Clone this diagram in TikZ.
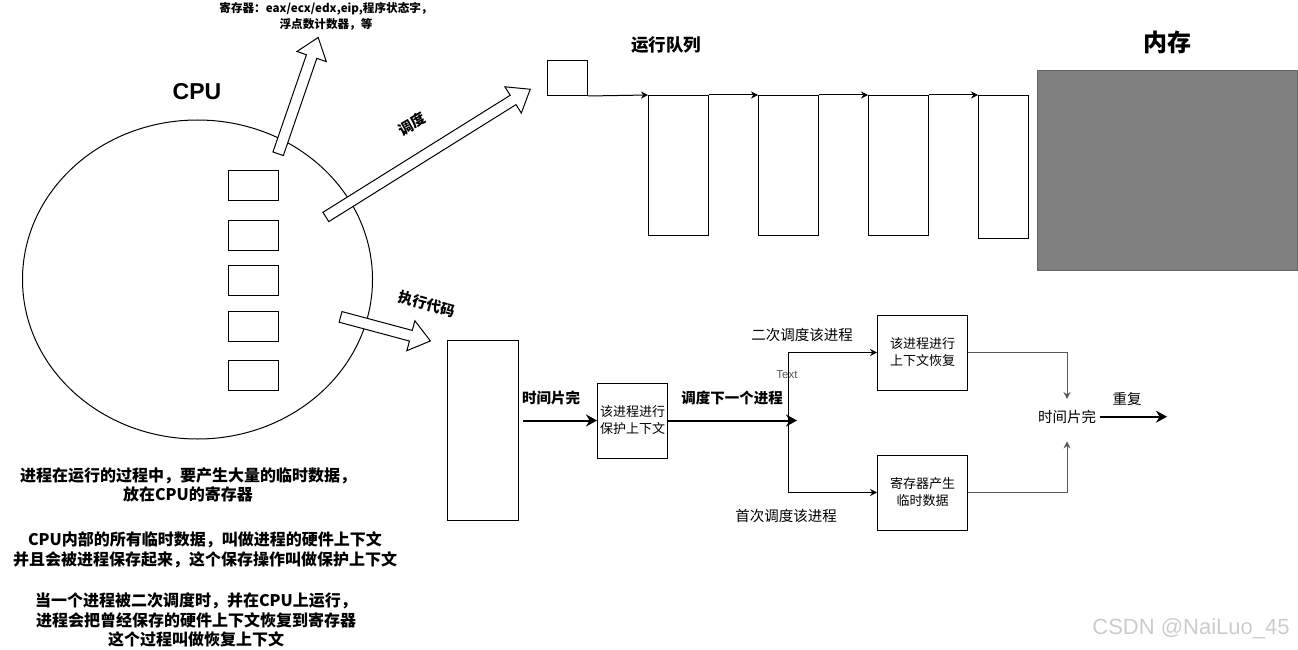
\documentclass[tikz,border=0pt]{standalone}
\usepackage{fontspec}
\setmainfont{Liberation Sans}
\newfontfamily\cjk{Noto Sans CJK SC}
\usepackage{tikz}
\usetikzlibrary{
    arrows.meta,
    positioning,
    shapes.geometric,
    shapes.arrows
}
\tikzset{
    regbox/.style={
        rectangle,
        draw=black,
        line width=1pt,
        inner sep=0pt,
        minimum width=50pt,
        minimum height=30pt
    },
    qbox/.style={
        rectangle,
        draw=black,
        line width=1pt,
        inner sep=0pt,
        anchor=north west,
        minimum width=60pt,
        minimum height=140pt
    },
    flowbox/.style={
        rectangle,
        draw=black,
        line width=1pt,
        inner sep=0pt,
        align=center,
        minimum width=90pt,
        minimum height=75pt,
        font=\cjk\fontsize{13}{17}\selectfont
    },
    blockarrow/.style={
        single arrow,
        draw=black,
        fill=white,
        line width=1pt,
        inner xsep=0pt,
        inner ysep=5pt,
        single arrow head extend=10pt,
        single arrow tip angle=75
    },
    arrow/.style={
        -{Stealth[length=7pt,width=7pt]},
        line width=1pt
    },
    grayarrow/.style={
        -{Stealth[length=7pt,width=7pt]},
        line width=1pt,
        draw=black!65
    },
    bigarrow/.style={
        -{Stealth[length=11pt,width=12pt]},
        line width=2pt
    },
    lbl/.style={
        align=center,
        font=\cjk\fontsize{14.5}{18}\selectfont
    },
    boldlbl/.style={
        align=center,
        font=\cjk\bfseries\fontsize{14.5}{18}\selectfont
    },
    note/.style={
        align=center,
        font=\cjk\bfseries\fontsize{16}{19.5}\selectfont
    }
}

\begin{document}
\begin{tikzpicture}[x=1pt, y=-1pt, node distance=4pt]
\useasboundingbox (0,0) rectangle (1298,650);

\node[ellipse, draw=black, line width=1pt, inner sep=0pt, minimum width=350pt, minimum height=319pt] (cpu) at (197.5,279.5) {};
\node[font=\bfseries\fontsize{23}{26}\selectfont] (cputitle) at (197,92) {CPU};

\node[regbox] (r1) at (253,185.5) {};
\node[regbox] (r2) at (253,235) {};
\node[regbox] (r3) at (253,280.5) {};
\node[regbox] (r4) at (253,326) {};
\node[regbox] (r5) at (253,375) {};

\node[blockarrow, minimum height=123pt, rotate=71] (toreg) at (297,99) {};
\node[blockarrow, minimum height=241pt, rotate=32] (sched) at (425,155) {};
\node[blockarrow, minimum height=93pt, rotate=-15] (exec) at (382,328) {};

\node[align=center, font=\cjk\bfseries\fontsize{11.6}{16}\selectfont] (regnote) at (326,16) {寄存器：eax/ecx/edx,eip,程序状态字，\\浮点数计数器，等};
\node[boldlbl, rotate=30, inner sep=0pt] (schedlbl) at (412,124) {调度};
\node[boldlbl, rotate=-15, inner sep=0pt] (execlbl) at (427,304) {执行代码};

\node[draw=black, line width=1pt, inner sep=0pt, anchor=north west, minimum width=40pt, minimum height=35pt] (qhead) at (547,60) {};
\node[qbox] (q1) at (648,95) {};
\node[qbox] (q2) at (758,95) {};
\node[qbox] (q3) at (868,95) {};
\node[qbox, minimum width=50pt, minimum height=143pt] (q4) at (978,95) {};

\draw[arrow] (qhead.south east) -- (q1.north west);
\draw[arrow] (q1.north east) -- (q2.north west);
\draw[arrow] (q2.north east) -- (q3.north west);
\draw[arrow] (q3.north east) -- (q4.north west);

\node[font=\cjk\bfseries\fontsize{17.5}{20}\selectfont] (queuelbl) at (666,45) {运行队列};

\node[rectangle, draw=black!60, fill=black!50, line width=1pt, anchor=north west, minimum width=260pt, minimum height=200pt] (mem) at (1037,70) {};
\node[font=\cjk\bfseries\fontsize{24}{28}\selectfont] (memlbl) at (1167,42) {内存};

\node[draw=black, line width=1pt, inner sep=0pt, anchor=north west, minimum width=71pt, minimum height=180pt] (proc) at (447,340) {};
\node[flowbox, minimum width=70pt] (save) at (632.5,420.5) {该进程进行\\保护上下文};
\node[flowbox] (restore) at (922.5,352.5) {该进程进行\\上下文恢复};
\node[flowbox] (regdata) at (922.5,492.5) {寄存器产生\\临时数据};

\coordinate (fork) at (797,420.5);
\draw[bigarrow, shorten <=4pt] (proc.east |- save.west) -- (save.west);
\draw[bigarrow] (save.east) -- (fork);
\draw[arrow] ([xshift=-9pt]fork) |- (restore.west);
\draw[arrow] ([xshift=-9pt]fork) |- (regdata.west);

\node[boldlbl] (slice1) at (551,398) {时间片完};
\node[boldlbl] (nextlbl) at (732,398) {调度下一个进程};
\node[lbl] (secondlbl) at (802,335) {二次调度该进程};
\node[lbl] (firstlbl) at (786,516) {首次调度该进程};
\node[text=black!65, font=\fontsize{11.5}{12}\selectfont, inner sep=0pt] (textlbl) at (787,375) {Text};

\node[lbl, minimum height=35pt] (slice2) at (1067,416.7) {时间片完};
\coordinate (again) at (1167,416.7);
\draw[grayarrow] (restore.east) -| (slice2.north);
\draw[grayarrow, shorten >=7pt] (regdata.east) -| (slice2.south);
\draw[bigarrow] (slice2.east) -- (again);
\node[lbl] (repeatlbl) at (1127,399) {重复};

\node[note] (note1) at (188,485) {进程在运行的过程中，要产生大量的临时数据，\\放在CPU的寄存器};
\node[note] (note2) at (205,550) {CPU内部的所有临时数据，叫做进程的硬件上下文\\并且会被进程保存起来，这个保存操作叫做保护上下文};
\node[note] (note3) at (196,620) {当一个进程被二次调度时，并在CPU上运行，\\进程会把曾经保存的硬件上下文恢复到寄存器\\这个过程叫做恢复上下文};

\node[text=black!20, font=\fontsize{22}{24}\selectfont] (mark) at (1191,629) {CSDN @NaiLuo\_45};

\end{tikzpicture}
\end{document}
